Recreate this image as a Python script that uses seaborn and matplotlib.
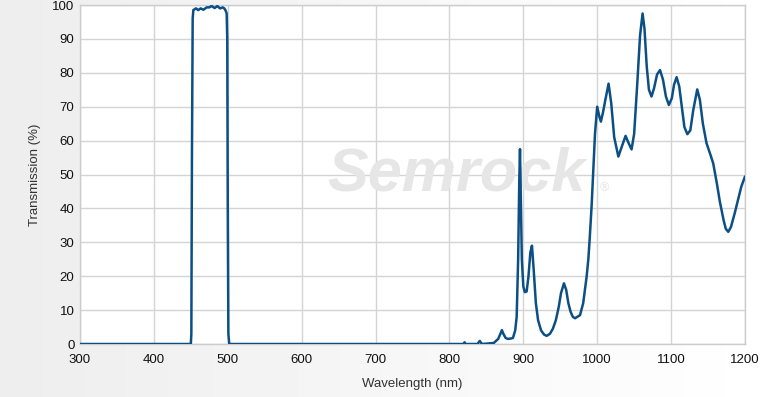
import numpy as np
import pandas as pd
import seaborn as sns
import matplotlib.pyplot as plt

# spectrum (nm, %T)
wavelength = [
    300, 450, 450.7, 451.5, 452.5, 453.4, 457, 460, 463.3, 467, 471.5, 475,
    478.2, 482.3, 485.8, 489.5, 493.1, 495.3, 497.2, 498.5, 499.3, 500, 500.8,
    502, 815, 819, 820.5, 822, 838, 841, 844, 860, 866, 869, 871, 873, 876,
    879, 883, 886, 889, 891, 893, 894.5, 895.5, 896.5, 898, 900, 902, 904.5,
    907, 909.5, 911.7, 914, 917, 920, 924, 928, 931.6, 936, 940, 944, 948,
    951, 955, 958, 961, 964, 967, 970, 973, 976.7, 981, 985.7, 988, 990,
    992.5, 994.7, 997, 1000, 1003, 1005, 1008, 1011, 1015.4, 1019, 1023,
    1028.6, 1033, 1038.4, 1042, 1046.5, 1050, 1054, 1058, 1061.4, 1064, 1067,
    1070, 1073.5, 1077, 1081, 1085, 1089, 1093, 1097, 1101, 1104, 1107.5,
    1111, 1115, 1118, 1122, 1126, 1130, 1135.4, 1139, 1143, 1148, 1153, 1157,
    1162, 1166, 1171, 1174, 1177.4, 1181, 1186, 1190, 1195, 1200,
]
transmission = [
    0, 0, 3, 55, 96, 98.5, 99.0, 98.5, 99.0, 98.6, 99.3, 99.3,
    99.7, 99.1, 99.7, 99.0, 99.3, 99.0, 98.3, 97.5, 90, 40, 3,
    0, 0, 0, 0.5, 0, 0, 0.9, 0, 0.3, 1.5, 3, 4.1, 3, 1.8,
    1.5, 1.6, 1.8, 4, 8, 25, 48, 57.5, 45, 25, 17, 15.3, 15.5,
    20, 27, 29, 22, 12, 7, 4, 2.8, 2.4, 3, 4.5, 7, 11,
    15, 17.9, 16, 12, 9.5, 8, 7.6, 8, 8.5, 12, 19.9, 25, 31.6,
    41, 51, 62, 70, 67, 65.6, 68.5, 72, 76.8, 71, 61,
    55.3, 58, 61.4, 59.5, 57.4, 62, 76, 91, 97.5, 93, 82,
    75, 73, 75.5, 79.5, 80.8, 78, 73, 70.5, 72.5, 76.5, 78.7,
    76, 69, 64, 61.9, 63, 69, 75.1, 72, 65, 59.2, 56, 53.3,
    47.3, 42, 36.6, 34, 33.1, 34.5, 38.5, 42, 46.4, 49.4,
]
x_ticks = list(range(300, 1201, 100))
y_ticks = list(range(0, 101, 10))

df = pd.DataFrame({"Wavelength (nm)": wavelength, "Transmission (%)": transmission})

sns.set_style("whitegrid")
plt.rcParams["font.family"] = ["Liberation Sans", "DejaVu Sans"]

fig = plt.figure(figsize=(7.7, 3.97), dpi=100)

# soft grey-to-white page background
bg = fig.add_axes([0, 0, 1, 1], zorder=-10)
grad = np.linspace(0.93, 1.0, 256).reshape(1, -1)
bg.imshow(grad, cmap="gray", vmin=0, vmax=1, aspect="auto", extent=[0, 1, 0, 1])
bg.set_axis_off()

ax = fig.add_axes([0.1039, 0.1335, 0.8636, 0.8539])
ax.set_facecolor("white")

ax.text(810, 50, "Semrock", fontsize=44, fontweight="bold", fontstyle="italic",
        color="#e6e6e6", ha="center", va="center", zorder=1)
ax.text(1010, 46, "®", fontsize=9, color="#e6e6e6", ha="center", va="center", zorder=1)

sns.lineplot(data=df, x="Wavelength (nm)", y="Transmission (%)", ax=ax,
             color="#0b4f85", linewidth=1.8, zorder=3)

ax.set_xlim(300, 1200)
ax.set_ylim(0, 100)
ax.set_xticks(x_ticks)
ax.set_yticks(y_ticks)
ax.grid(True, color="#d4d4d4", linewidth=1)
for s in ax.spines.values():
    s.set_color("#cccccc")
    s.set_linewidth(1)
ax.tick_params(axis="both", length=0, labelsize=9.5, labelcolor="#111111")
ax.tick_params(axis="x", pad=7)
ax.tick_params(axis="y", pad=4)
ax.set_xlabel("Wavelength (nm)", fontsize=9.5, color="#333333", labelpad=9)
ax.set_ylabel("Transmission (%)", fontsize=9.5, color="#333333", labelpad=8)

fig.savefig("out.png", dpi=100)
